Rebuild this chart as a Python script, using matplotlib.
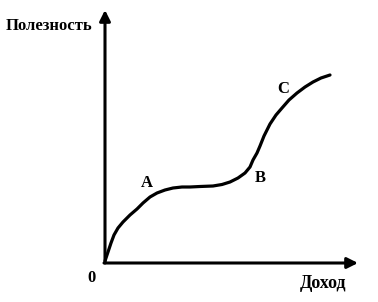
import matplotlib
matplotlib.use("Agg")
import matplotlib.pyplot as plt

# utility curve (income, utility)
income = [0, 3, 6, 9, 13, 18, 25, 32, 38, 45, 52, 60, 68, 77, 85, 95, 108, 117,
          125, 133, 140, 145, 148, 152, 155, 159, 165, 171, 177, 184, 192, 200, 208, 216, 225]
utility = [1, 10, 19, 27, 34, 40, 47, 53, 59, 65, 69, 72, 74, 75, 75, 75.5, 76, 77.5,
           80, 84, 89, 95, 102, 109, 116, 126, 138, 147, 154, 162, 169, 175, 180, 184, 187]

point_names = ["A", "B", "C"]
point_x = [42, 155, 178]
point_y = [79, 84, 173]

plt.rcParams["font.family"] = ["Liberation Serif", "DejaVu Serif"]

fig = plt.figure(figsize=(3.78, 3.02), dpi=100)
ax = fig.add_axes([0, 0, 1, 1])
ax.set_xlim(-105, 273)
ax.set_ylim(-40, 262)
ax.axis("off")

arrow = dict(arrowstyle="-|>", lw=2.2, color="black", mutation_scale=16, shrinkA=0, shrinkB=0)
ax.annotate("", xy=(0, 252), xytext=(0, -1), arrowprops=arrow)
ax.annotate("", xy=(253, -1), xytext=(-1, -1), arrowprops=arrow)

ax.plot(income, utility, color="black", lw=2.3, solid_capstyle="round", solid_joinstyle="round")

for name, x, y in zip(point_names, point_x, point_y):
    ax.text(x, y, name, fontsize=12, fontweight="bold", ha="center", va="center")

ax.text(-13, -16, "0", fontsize=12, fontweight="bold", ha="center", va="center")
ax.text(-56, 236, "Полезность", fontsize=12, fontweight="bold", ha="center", va="center")
ax.text(218, -21, "Доход", fontsize=13, fontweight="bold", ha="center", va="center")

fig.savefig("out.png", dpi=100)
